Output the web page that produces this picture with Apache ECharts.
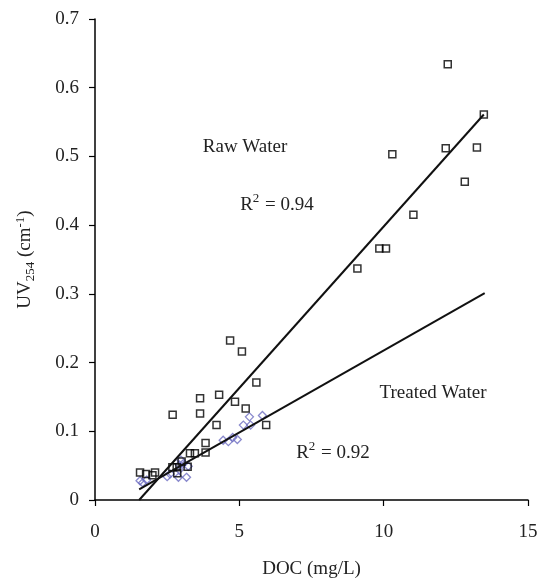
<!DOCTYPE html>
<html>
<head>
<meta charset="utf-8">
<script src="https://cdn.jsdelivr.net/npm/echarts@6/dist/echarts.min.js"></script>
<style>
  html, body { margin: 0; padding: 0; background: #fff; }
  #chart { width: 540px; height: 581px; }
</style>
</head>
<body>
<div id="chart"></div>
<script>
// raw water (squares)
const rawDOC = [1.56, 1.77, 1.99, 2.08, 2.68, 2.69, 2.83, 2.85, 3.0, 3.21, 3.29, 3.46, 3.64, 3.64, 3.83, 3.83, 4.21, 4.30, 4.68, 4.85, 5.09, 5.22, 5.59, 5.93, 9.09, 9.85, 10.08, 10.30, 11.03, 12.15, 12.22, 12.81, 13.23, 13.47]
const rawUV = [0.040, 0.038, 0.036, 0.040, 0.0475, 0.124, 0.0475, 0.039, 0.056, 0.0485, 0.068, 0.068, 0.148, 0.126, 0.083, 0.069, 0.109, 0.153, 0.232, 0.143, 0.216, 0.133, 0.171, 0.109, 0.337, 0.366, 0.366, 0.503, 0.415, 0.512, 0.634, 0.463, 0.513, 0.561]

// treated water (diamonds)
const treatedDOC = [1.56, 1.65, 1.79, 2.50, 2.60, 2.89, 2.92, 2.92, 2.98, 3.06, 3.17, 3.23, 4.44, 4.62, 4.77, 4.93, 5.14, 5.35, 5.39, 5.80]
const treatedUV = [0.028, 0.025, 0.029, 0.034, 0.038, 0.033, 0.044, 0.051, 0.058, 0.053, 0.033, 0.049, 0.087, 0.085, 0.091, 0.088, 0.109, 0.121, 0.109, 0.123]

// trend lines, end points
const rawFitDOC = [1.53, 13.47]
const rawFitUV = [0, 0.561]
const treatedFitDOC = [1.53, 13.5]
const treatedFitUV = [0.0155, 0.301]

const xTicks = [0, 5, 10, 15]
const yTicks = [0, 0.1, 0.2, 0.3, 0.4, 0.5, 0.6, 0.7]

const zip = (xs, ys) => xs.map((x, i) => [x, ys[i]])
const serif = '"Liberation Serif", "DejaVu Serif", serif'
const textColor = '#222'

const supStyle = { fontSize: 13, fontFamily: serif, fill: textColor, verticalAlign: 'top', padding: [0, 1, 12, 0] }

const chart = echarts.init(document.getElementById('chart'))

chart.setOption({
  animation: false,
  backgroundColor: '#fff',
  textStyle: { fontFamily: serif },
  grid: { left: 95, right: 12, top: 19, bottom: 81, outerBoundsMode: 'none', containLabel: false },
  xAxis: {
    type: 'value',
    min: xTicks[0],
    max: xTicks[xTicks.length - 1],
    interval: 5,
    name: 'DOC (mg/L)',
    nameLocation: 'middle',
    nameGap: 60,
    nameTextStyle: { fontFamily: serif, fontSize: 19, color: textColor },
    axisLine: { lineStyle: { color: '#000', width: 1.5 } },
    axisTick: { length: 6, lineStyle: { color: '#000', width: 1.2 } },
    axisLabel: { fontFamily: serif, fontSize: 19, color: textColor, margin: 23 },
    splitLine: { show: false }
  },
  yAxis: {
    type: 'value',
    min: yTicks[0],
    max: yTicks[yTicks.length - 1],
    interval: 0.1,
    name: 'UV{sub|254} (cm{sup|-1})',
    nameLocation: 'middle',
    nameGap: 58,
    nameTextStyle: {
      fontFamily: serif, fontSize: 19, color: textColor,
      rich: {
        sub: { fontFamily: serif, fontSize: 13, color: textColor, verticalAlign: 'bottom', padding: [10, 0, 0, 0] },
        sup: { fontFamily: serif, fontSize: 13, color: textColor, verticalAlign: 'top', padding: [0, 0, 8, 0] }
      }
    },
    axisLine: { show: true, lineStyle: { color: '#000', width: 1.5 } },
    axisTick: { show: true, length: 6, lineStyle: { color: '#000', width: 1.2 } },
    axisLabel: { fontFamily: serif, fontSize: 19, color: textColor, margin: 16 },
    splitLine: { show: false }
  },
  series: [
    {
      name: 'Treated Water',
      type: 'scatter',
      symbol: 'diamond',
      symbolSize: 8,
      itemStyle: { color: 'rgba(255,255,255,0)', borderColor: '#6b6bc0', borderWidth: 1.3 },
      data: zip(treatedDOC, treatedUV)
    },
    {
      name: 'Raw Water',
      type: 'scatter',
      symbol: 'rect',
      symbolSize: 7,
      itemStyle: { color: 'rgba(255,255,255,0)', borderColor: '#000', borderWidth: 1.5 },
      data: zip(rawDOC, rawUV)
    },
    {
      type: 'line',
      showSymbol: false,
      z: 5,
      lineStyle: { color: '#111', width: 2 },
      data: zip(rawFitDOC, rawFitUV)
    },
    {
      type: 'line',
      showSymbol: false,
      z: 5,
      lineStyle: { color: '#111', width: 2 },
      data: zip(treatedFitDOC, treatedFitUV)
    }
  ],
  graphic: [
    {
      type: 'text', x: 245, y: 147,
      style: { text: 'Raw Water', font: '19px ' + serif, fill: textColor, align: 'center', verticalAlign: 'middle' }
    },
    {
      type: 'text', x: 277, y: 205,
      style: {
        text: 'R{sup|2} = 0.94', font: '19px ' + serif, fill: textColor, align: 'center', verticalAlign: 'middle',
        rich: { sup: supStyle }
      }
    },
    {
      type: 'text', x: 433, y: 393,
      style: { text: 'Treated Water', font: '19px ' + serif, fill: textColor, align: 'center', verticalAlign: 'middle' }
    },
    {
      type: 'text', x: 333, y: 453,
      style: {
        text: 'R{sup|2} = 0.92', font: '19px ' + serif, fill: textColor, align: 'center', verticalAlign: 'middle',
        rich: { sup: supStyle }
      }
    }
  ]
})
</script>
</body>
</html>
